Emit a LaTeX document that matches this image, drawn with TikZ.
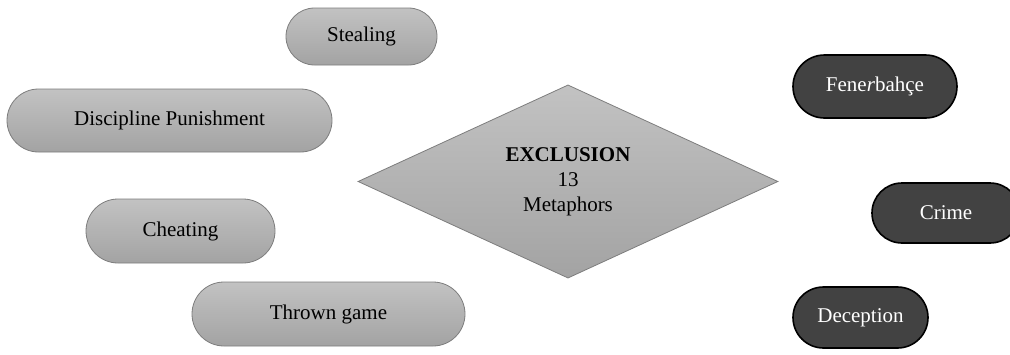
\documentclass[tikz,border=0pt]{standalone}
\usepackage{fontspec}
\setmainfont{Liberation Serif}
\usetikzlibrary{shapes.misc,shapes.geometric}
\definecolor{lighttop}{RGB}{194,194,194}
\definecolor{lightbot}{RGB}{163,163,163}
\definecolor{lightedge}{RGB}{125,125,125}
\definecolor{darkfill}{RGB}{66,66,66}
\tikzset{
  lightpill/.style={rounded rectangle, draw=lightedge, line width=0.8pt,
    top color=lighttop, bottom color=lightbot, inner sep=0pt,
    font=\fontsize{21}{25}\selectfont, text=black},
  darkpill/.style={rounded rectangle, draw=black, line width=1.6pt,
    fill=darkfill, inner sep=0pt, font=\fontsize{21}{25}\selectfont, text=white},
  centre/.style={diamond, draw=lightedge, line width=0.8pt,
    top color=lighttop, bottom color=lightbot, inner sep=0pt,
    align=center, font=\fontsize{21}{25}\selectfont}
}
\begin{document}
\begin{tikzpicture}[x=1pt,y=-1pt]
\useasboundingbox (0,0) rectangle (1010,354);
\node[lightpill, minimum width=151pt, minimum height=57pt] (st) at (361.5,36.5) {Stealing};
\node[lightpill, minimum width=325pt, minimum height=63pt] (dp) at (169.5,120.5) {Discipline Punishment};
\node[lightpill, minimum width=189pt, minimum height=64pt] (ch) at (180.5,231) {Cheating};
\node[lightpill, minimum width=273pt, minimum height=64pt] (tg) at (328.5,314) {Thrown game};
\node[centre, minimum width=420pt, minimum height=183pt] (ex) at (568,181.5) {\textbf{EXCLUSION}\\13\\Metaphors};
\node[darkpill, minimum width=164pt, minimum height=63pt] (fb) at (875,86.5) {Fene\textit{r}bahçe};
\node[darkpill, minimum width=148pt, minimum height=60pt] (cr) at (946,213) {Crime};
\node[darkpill, minimum width=135pt, minimum height=61pt] (de) at (860.5,317.5) {Deception};
\end{tikzpicture}
\end{document}
